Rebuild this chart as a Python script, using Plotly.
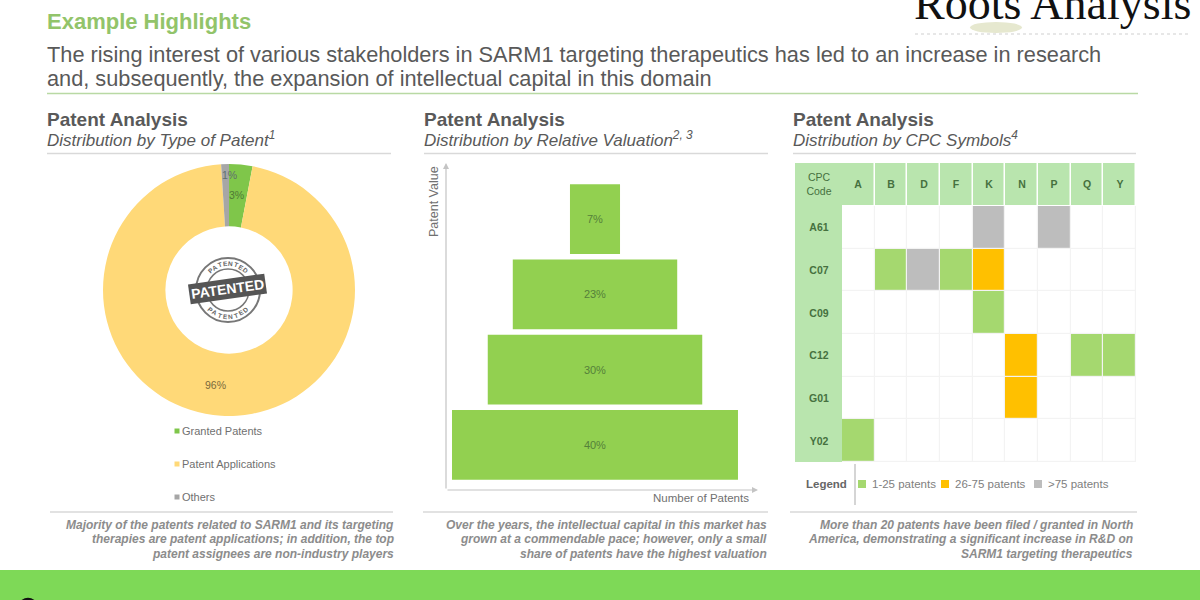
import math
import plotly.graph_objects as go

# Pie data
patent_types = ['Granted Patents', 'Patent Applications', 'Others']
patent_shares = [3, 96, 1]
patent_colors = ['#7fc64a', '#ffd978', '#a6a6a6']

# Funnel data
value_tiers = ['Tier 1', 'Tier 2', 'Tier 3', 'Tier 4']
tier_shares = [7, 23, 30, 40]

# CPC table data (0 none, 1 = 1-25, 2 = 26-75, 3 = >75)
cpc_sections = ['A', 'B', 'D', 'F', 'K', 'N', 'P', 'Q', 'Y']
cpc_codes = ['A61', 'C07', 'C09', 'C12', 'G01', 'Y02']
cpc_levels = [
    [0, 0, 0, 0, 3, 0, 3, 0, 0],
    [0, 1, 3, 1, 2, 0, 0, 0, 0],
    [0, 0, 0, 0, 1, 0, 0, 0, 0],
    [0, 0, 0, 0, 0, 2, 0, 1, 1],
    [0, 0, 0, 0, 0, 2, 0, 0, 0],
    [1, 0, 0, 0, 0, 0, 0, 0, 0],
]
level_names = ['1-25 patents', '26-75 patents', '>75 patents']
level_colors = ['#a5d86f', '#ffc000', '#bdbdbd']

# Footnotes under each panel
footnotes = {
    394: ['Majority of the patents related to SARM1 and its targeting',
          'therapies are patent applications; in addition, the top',
          'patent assignees are non-industry players'],
    767: ['Over the years, the intellectual capital in this market has',
          'grown at a commendable pace; however, only a small',
          'share of patents have the highest valuation'],
    1133: ['More than 20 patents have been filed / granted in North',
           'America, demonstrating a significant increase in R&amp;D on',
           'SARM1 targeting therapeutics'],
}

W, H = 1200, 600
SANS = 'Liberation Sans'
HEADER_GREEN = '#b9e5ae'
DARK = '#595959'


def px(x):
    return x / W


def py(y):
    return 1 - y / H


def note(x, y, text, size, color=DARK, anchor='left', **kw):
    kw.setdefault('borderpad', 0)
    return dict(x=px(x), y=py(y), xref='paper', yref='paper', text=text, showarrow=False,
                xanchor=anchor, yanchor='middle', align=anchor, borderwidth=0,
                font=dict(family=kw.pop('family', SANS), size=size, color=color), **kw)


def rect(x0, y0, x1, y1, color, layer='above'):
    return dict(type='rect', xref='paper', yref='paper', x0=px(x0), x1=px(x1), y0=py(y0), y1=py(y1),
                fillcolor=color, line_width=0, layer=layer)


def rule(x0, y0, x1, y1, color='#d9d9d9', width=1.3, dash='solid'):
    return dict(type='line', xref='paper', yref='paper', x0=px(x0), x1=px(x1), y0=py(y0), y1=py(y1),
                line=dict(color=color, width=width, dash=dash))


def circle(cx, cy, r, color, width=1.5, dash='solid'):
    return dict(type='circle', xref='paper', yref='paper', x0=px(cx - r), x1=px(cx + r),
                y0=py(cy + r), y1=py(cy - r), line=dict(color=color, width=width, dash=dash))


fig = go.Figure()

# Donut
fig.add_trace(go.Pie(
    labels=patent_types, values=patent_shares, sort=False, direction='clockwise', rotation=0,
    hole=0.505, marker=dict(colors=patent_colors, line=dict(width=0)), textinfo='none',
    domain=dict(x=[px(103), px(355)], y=[py(416), py(164)]), showlegend=False,
))

# Stacked valuation blocks
fig.add_trace(go.Funnel(
    x=tier_shares, y=value_tiers, orientation='h', xaxis='x', yaxis='y',
    marker=dict(color='#92d050', line=dict(width=0)), connector=dict(visible=False),
    text=[f'{v}%' for v in tier_shares], textinfo='text', textposition='inside',
    insidetextanchor='middle', textangle=0, constraintext='none',
    insidetextfont=dict(family=SANS, size=11, color='#55803a'),
))

# CPC heatmap: body, top header, left header
body_scale = [[0, '#ffffff'], [0.25, '#ffffff'], [0.25, level_colors[0]], [0.5, level_colors[0]],
              [0.5, level_colors[1]], [0.75, level_colors[1]], [0.75, level_colors[2]], [1, level_colors[2]]]
fig.add_trace(go.Heatmap(
    x=cpc_sections, y=cpc_codes, z=cpc_levels, xaxis='x2', yaxis='y2', zmin=0, zmax=3,
    colorscale=body_scale, showscale=False, xgap=1.2, ygap=1.2,
))
head_scale = [[0, HEADER_GREEN], [1, HEADER_GREEN]]
head_font = dict(family=SANS, size=10.5, color='#46713f')
fig.add_trace(go.Heatmap(
    x=cpc_sections, y=['head'], z=[[1] * len(cpc_sections)], xaxis='x3', yaxis='y3',
    colorscale=head_scale, showscale=False, xgap=1.5, ygap=0,
    text=[[f'<b>{s}</b>' for s in cpc_sections]], texttemplate='%{text}', textfont=head_font,
))
fig.add_trace(go.Heatmap(
    x=['code'], y=['corner'] + cpc_codes, z=[[1]] * (len(cpc_codes) + 1), xaxis='x4', yaxis='y4',
    colorscale=head_scale, showscale=False, xgap=0, ygap=0,
    text=[['CPC<br>Code']] + [[f'<b>{c}</b>'] for c in cpc_codes], texttemplate='%{text}', textfont=head_font,
))

hidden = dict(showgrid=False, zeroline=False, showticklabels=False, ticks='', showline=False, fixedrange=True)
fig.update_layout(
    width=W, height=H, autosize=False, margin=dict(l=0, r=0, t=0, b=0),
    paper_bgcolor='white', plot_bgcolor='rgba(0,0,0,0)', funnelgap=0.07, showlegend=False,
    xaxis=dict(domain=[px(446), px(756)], range=[-20.84, 22.52], anchor='y', **hidden),
    yaxis=dict(domain=[py(482.5), py(181.5)], anchor='x', categoryorder='array', categoryarray=value_tiers, **hidden),
    xaxis2=dict(domain=[px(842), px(1136)], anchor='y2', **hidden),
    yaxis2=dict(domain=[py(462), py(206)], anchor='x2', autorange='reversed', **hidden),
    xaxis3=dict(domain=[px(842), px(1136)], anchor='y3', **hidden),
    yaxis3=dict(domain=[py(205), py(163)], anchor='x3', **hidden),
    xaxis4=dict(domain=[px(795), px(842)], anchor='y4', **hidden),
    yaxis4=dict(domain=[py(462), py(163)], anchor='x4', autorange='reversed', **hidden),
)

shapes = [
    rect(842, 206, 1136, 462, '#f3f3f3', layer='below'),
    rect(0, 570, W, 600, '#7ed957'),
    rule(47, 93.5, 1138, 93.5, '#b9d9a4'),
    rule(47, 153.5, 391, 153.5), rule(424, 153.5, 768, 153.5), rule(793, 153.5, 1136, 153.5),
    rule(50, 512, 393, 512), rule(423, 512, 768, 512), rule(790, 512, 1137, 512),
    rule(855, 464, 855, 505, '#bfbfbf'),
    rule(915, 34, 1190, 34, '#d0d0d0', 1.2, 'dot'),
    circle(228, 290, 32, '#777777', 2),
    circle(228, 290, 21, '#777777', 1.5),
    dict(type='circle', xref='paper', yref='paper', x0=px(970), x1=px(1022), y0=py(33), y1=py(22),
         fillcolor='#e6e8cf', line_width=0),
    dict(type='path', xref='paper', yref='paper', line=dict(color='#111111', width=2.5),
         path=f'M {px(19)} {py(604)} Q {px(28)} {py(594)} {px(37)} {py(604)}'),
]

annotations = [
    note(47, 22, '<b>Example Highlights</b>', 22, '#92c46a'),
    note(47, 54.5, 'The rising interest of various stakeholders in SARM1 targeting therapeutics has led to an increase in research', 21.76, DARK),
    note(47, 78, 'and, subsequently, the expansion of intellectual capital in this domain', 21.76, DARK),
    note(914, 3.5, 'Roots Analysis', 46, '#111111', family='Liberation Serif'),
    note(47, 119, '<b>Patent Analysis</b>', 19), note(47, 139, '<i>Distribution by Type of Patent<sup>1</sup></i>', 17),
    note(424, 119, '<b>Patent Analysis</b>', 19), note(424, 139, '<i>Distribution by Relative Valuation<sup>2, 3</sup></i>', 17),
    note(793, 119, '<b>Patent Analysis</b>', 19), note(793, 139, '<i>Distribution by CPC Symbols<sup>4</sup></i>', 17),
    # Donut labels
    note(236, 195, f'{patent_shares[0]}%', 10.5, '#4f7a35', 'center'),
    note(215, 385, f'{patent_shares[1]}%', 10.5, '#7a6a3c', 'center'),
    note(229, 175, f'{patent_shares[2]}%', 10.5, '#5f6f70', 'center'),
    # Stamp
    note(227, 289, '<b>PATENTED</b>', 14, 'white', 'center', textangle=-8, bgcolor='#555555', borderpad=2),
    # Funnel axis labels
    note(434, 202, 'Patent Value', 12.5, '#707070', 'center', textangle=-90),
    note(749, 498, 'Number of Patents', 11.5, '#707070', 'right'),
    # Axis arrows
    dict(x=px(446), y=py(163), ax=0, ay=327, xref='paper', yref='paper', axref='pixel', ayref='pixel',
         text='', showarrow=True, arrowhead=2, arrowsize=1, arrowwidth=1.2, arrowcolor='#c4c4c4'),
    dict(x=px(758), y=py(490), ax=-312, ay=0, xref='paper', yref='paper', axref='pixel', ayref='pixel',
         text='', showarrow=True, arrowhead=2, arrowsize=1, arrowwidth=1.2, arrowcolor='#c4c4c4'),
    note(806, 484, '<b>Legend</b>', 11.5, '#666666'),
]

# Stamp ring lettering
for i, letter in enumerate('PATENTED'):
    deg = (i - 3.5) * 12
    rad = math.radians(deg)
    annotations.append(note(228 + 26.5 * math.sin(rad), 290 - 26.5 * math.cos(rad), f'<b>{letter}</b>', 6.5,
                            '#666666', 'center', textangle=deg))
    annotations.append(note(228 + 26.5 * math.sin(rad), 290 + 26.5 * math.cos(rad), f'<b>{letter}</b>', 6.5,
                            '#666666', 'center', textangle=-deg))

# Footnotes, one line at a time
for right_edge, lines in footnotes.items():
    for i, line in enumerate(lines):
        annotations.append(note(right_edge, 524.5 + 14.7 * i, f'<b><i>{line}</i></b>', 12, '#8c8c8c', 'right'))

# Donut legend
for i, (name, color) in enumerate(zip(patent_types, patent_colors)):
    y = 431 + 33 * i
    shapes.append(rect(174.5, y - 2.5, 179.5, y + 2.5, color))
    annotations.append(note(182, y, name, 11, '#707070'))

# Table legend
for name, color, x in zip(level_names, level_colors, [858, 941, 1034]):
    shapes.append(rect(x, 480, x + 8, 488, color))
    annotations.append(note(x + 14, 484, name, 11.5, '#808080'))

fig.update_layout(shapes=shapes, annotations=annotations)

# plotly's page keeps the browser's default body margin otherwise
fig.write_html("out.html", config={'displayModeBar': False}, post_script="document.body.style.margin = '0';")
